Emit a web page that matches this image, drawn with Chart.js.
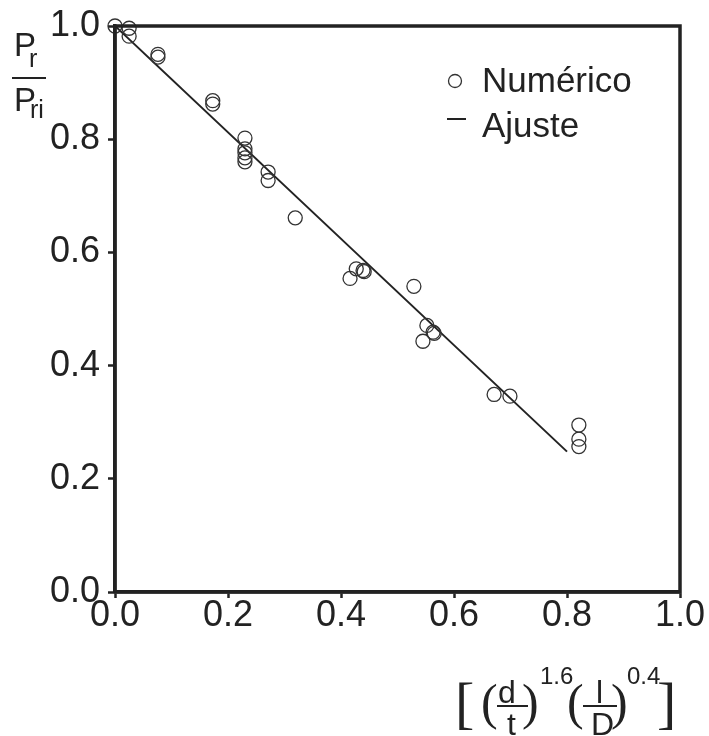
<!DOCTYPE html>
<html>
<head>
<meta charset="utf-8">
<script src="https://cdn.jsdelivr.net/npm/chart.js@4/dist/chart.umd.min.js"></script>
<style>
html,body{margin:0;padding:0;background:#fff;}
#wrap{width:709px;height:736px;position:relative;}
</style>
</head>
<body>
<div id="wrap"><canvas id="c" width="709" height="736"></canvas></div>
<script>
// Numérico series
const numX = [0.000, 0.025, 0.025, 0.076, 0.076, 0.173, 0.173, 0.230, 0.230, 0.230, 0.230, 0.230, 0.271, 0.271, 0.319, 0.416, 0.427, 0.439, 0.441, 0.529, 0.545, 0.552, 0.563, 0.565, 0.671, 0.699, 0.821, 0.821, 0.821];
const numY = [1.000, 0.996, 0.982, 0.950, 0.945, 0.868, 0.862, 0.802, 0.783, 0.776, 0.767, 0.760, 0.742, 0.727, 0.661, 0.554, 0.571, 0.568, 0.566, 0.540, 0.443, 0.471, 0.459, 0.457, 0.349, 0.346, 0.295, 0.270, 0.257];
// Ajuste (fit line)
const fitX = [0.0, 0.8];
const fitY = [1.0, 0.248];
// Axis ticks
const tickValues = [0.0, 0.2, 0.4, 0.6, 0.8, 1.0];

const ink = '#222';
const narrow = '"Liberation Sans Narrow", "Arial Narrow", "Liberation Sans", Arial, sans-serif';
const sans = '"Liberation Sans", Arial, sans-serif';
const numPts = numX.map((x, i) => ({x: x, y: numY[i]}));
const fitPts = fitX.map((x, i) => ({x: x, y: fitY[i]}));

const decor = {
  id: 'decor',
  afterDraw(chart) {
    const ctx = chart.ctx;
    const a = chart.chartArea;
    ctx.save();
    // frame
    ctx.strokeStyle = ink;
    ctx.lineWidth = 3.5;
    ctx.strokeRect(a.left, a.top, a.right - a.left, a.bottom - a.top);

    // legend
    ctx.fillStyle = ink;
    ctx.lineWidth = 1.3;
    ctx.strokeStyle = '#333';
    ctx.beginPath();
    ctx.arc(455, 81, 6.5, 0, Math.PI * 2);
    ctx.stroke();
    ctx.lineWidth = 2;
    ctx.strokeStyle = ink;
    ctx.beginPath();
    ctx.moveTo(447, 119);
    ctx.lineTo(466, 119);
    ctx.stroke();
    ctx.font = '35px ' + sans;
    ctx.textBaseline = 'alphabetic';
    ctx.textAlign = 'left';
    ctx.fillText('Numérico', 482, 92);
    ctx.fillText('Ajuste', 482, 137);

    // y axis title: P_r / P_ri
    ctx.font = '33px ' + narrow;
    ctx.fillText('P', 14, 56);
    ctx.fillText('P', 14, 111);
    ctx.font = '25px ' + narrow;
    ctx.fillText('r', 29, 67);
    ctx.fillText('ri', 30, 118);
    ctx.lineWidth = 2;
    ctx.beginPath();
    ctx.moveTo(12, 78);
    ctx.lineTo(46, 78);
    ctx.stroke();

    // x axis title: [ (d/t)^1.6 (l/D)^0.4 ]
    ctx.font = '58px "Liberation Serif", "Times New Roman", serif';
    ctx.fillText('[', 455, 722);
    ctx.fillText(']', 657, 722);
    ctx.font = '50px "Liberation Serif", "Times New Roman", serif';
    ctx.fillText('(', 481, 719);
    ctx.fillText(')', 522, 719);
    ctx.fillText('(', 567, 719);
    ctx.fillText(')', 611, 719);
    ctx.font = '32px ' + narrow;
    ctx.fillText('d', 498, 703);
    ctx.fillText('t', 507, 735);
    ctx.fillText('l', 596, 703);
    ctx.fillText('D', 591, 735);
    ctx.font = '24px ' + narrow;
    ctx.fillText('1.6', 540, 684);
    ctx.fillText('0.4', 627, 684);
    ctx.lineWidth = 2;
    ctx.beginPath();
    ctx.moveTo(497, 706); ctx.lineTo(528, 706);
    ctx.moveTo(583, 706); ctx.lineTo(617, 706);
    ctx.stroke();
    ctx.restore();
  }
};

new Chart(document.getElementById('c'), {
  type: 'scatter',
  data: {
    datasets: [
      {
        label: 'Numérico',
        data: numPts,
        showLine: false,
        pointStyle: 'circle',
        pointRadius: 7,
        pointBorderWidth: 1.3,
        borderColor: '#333',
        backgroundColor: 'rgba(0,0,0,0)',
        clip: false,
        order: 1
      },
      {
        label: 'Ajuste',
        data: fitPts,
        showLine: true,
        pointRadius: 0,
        borderColor: ink,
        borderWidth: 2,
        fill: false,
        order: 2
      }
    ]
  },
  options: {
    responsive: false,
    animation: false,
    devicePixelRatio: 1,
    layout: {padding: {left: 0, top: 24, right: 29, bottom: 0}},
    plugins: {legend: {display: false}, tooltip: {enabled: false}},
    scales: {
      x: {
        type: 'linear',
        min: 0, max: 1,
        afterBuildTicks: (s) => { s.ticks = tickValues.map(v => ({value: v})); },
        afterFit: (s) => { s.height = 144; },
        ticks: {
          callback: (v) => Number(v).toFixed(1),
          color: ink,
          font: {family: narrow, size: 36, lineHeight: 1},
          padding: 0,
          maxRotation: 0
        },
        grid: {drawOnChartArea: false, drawTicks: true, tickLength: 6, tickWidth: 2.5, color: ink},
        border: {display: true, color: ink, width: 3.5}
      },
      y: {
        type: 'linear',
        min: 0, max: 1,
        afterBuildTicks: (s) => { s.ticks = tickValues.map(v => ({value: v})); },
        afterFit: (s) => { s.width = 115; },
        ticks: {
          callback: (v) => Number(v).toFixed(1),
          color: ink,
          font: {family: narrow, size: 36, lineHeight: 1},
          padding: 8
        },
        grid: {drawOnChartArea: false, drawTicks: true, tickLength: 7, tickWidth: 2.5, color: ink},
        border: {display: true, color: ink, width: 3.5}
      }
    }
  },
  plugins: [decor]
});
</script>
</body>
</html>
